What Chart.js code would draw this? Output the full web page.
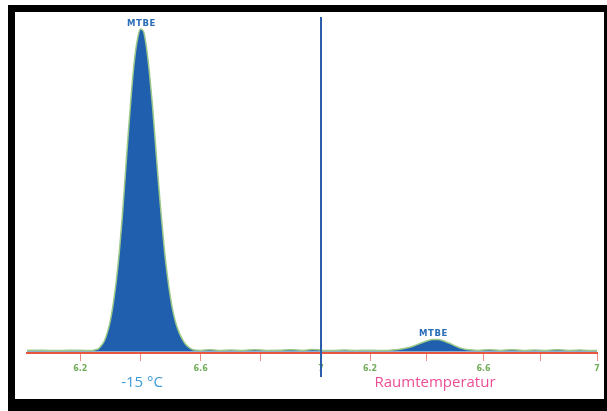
<!DOCTYPE html>
<html>
<head>
<meta charset="utf-8">
<script src="https://cdn.jsdelivr.net/npm/chart.js@4"></script>
<style>
  html, body { margin: 0; padding: 0; background: #fff; }
  body { width: 607px; height: 411px; position: relative; overflow: hidden; }
  #frame { position: absolute; left: 8px; top: 5px; width: 599px; height: 406px; background: #000; }
  #panel { position: absolute; left: 15px; top: 12px; width: 589px; height: 387px; background: #fff; }
  canvas { position: absolute; left: 0; top: 0; }
  #divider { position: absolute; left: 320px; top: 17px; width: 2px; height: 360px; background: #2b5ea8; }
  .cond { position: absolute; top: 371px; font-family: "Open Sans", sans-serif; font-size: 15px; white-space: nowrap; transform: translateX(-50%); }
  #c1lbl { left: 142px; color: #3c9ad8; }
  #c2lbl { left: 435px; color: #ec4e95; }
</style>
</head>
<body>
<div id="frame"></div>
<div id="panel"></div>
<canvas id="left" width="607" height="411"></canvas>
<canvas id="right" width="607" height="411"></canvas>
<div id="divider"></div>
<div class="cond" id="c1lbl">-15 °C</div>
<div class="cond" id="c2lbl">Raumtemperatur</div>
<script>
// Retention time (min) and relative signal (% of the -15 °C MTBE apex)
const leftTimes = [6.023, 6.06, 6.10, 6.14, 6.18, 6.22, 6.24, 6.25, 6.26, 6.27, 6.28, 6.29, 6.30, 6.31, 6.32, 6.33, 6.34, 6.35, 6.36, 6.37, 6.38, 6.39, 6.40, 6.41, 6.42, 6.43, 6.44, 6.45, 6.46, 6.47, 6.48, 6.49, 6.50, 6.51, 6.52, 6.53, 6.54, 6.55, 6.56, 6.57, 6.58, 6.60, 6.63, 6.66, 6.70, 6.74, 6.78, 6.82, 6.86, 6.90, 6.94, 6.97, 7.0];
const leftSignal = [0.3, 0.35, 0.3, 0.3, 0.35, 0.3, 0.3, 0.5, 0.8, 1.8, 3.2, 5.8, 9.5, 15, 22, 31, 42, 55, 68, 80, 90, 96.5, 99.7, 99, 94, 86, 76, 64, 52, 41, 31, 23, 16.5, 11.5, 8, 5.5, 3.6, 2.2, 1.3, 0.7, 0.4, 0.3, 0.5, 0.3, 0.45, 0.3, 0.5, 0.3, 0.35, 0.5, 0.3, 0.6, 0.4];

const rightTimes = [6.027, 6.07, 6.11, 6.15, 6.19, 6.23, 6.26, 6.28, 6.30, 6.32, 6.34, 6.36, 6.38, 6.40, 6.42, 6.44, 6.46, 6.48, 6.50, 6.52, 6.54, 6.56, 6.58, 6.62, 6.66, 6.70, 6.74, 6.78, 6.82, 6.86, 6.90, 6.94, 6.97, 7.0];
const rightSignal = [0.3, 0.3, 0.4, 0.3, 0.35, 0.3, 0.3, 0.4, 0.6, 0.9, 1.3, 1.9, 2.6, 3.2, 3.7, 3.7, 3.2, 2.5, 1.7, 1.0, 0.6, 0.4, 0.3, 0.5, 0.3, 0.5, 0.3, 0.45, 0.3, 0.5, 0.3, 0.4, 0.3, 0.3];

const tickValues = [6.2, 6.4, 6.6, 6.8, 7.0];
const tickLabels = ['6.2', '', '6.6', '', '7'];
const peakName = 'MTBE';

const peakLabel = {
  id: 'peakLabel',
  afterDatasetsDraw(chart) {
    const ds = chart.data.datasets[0].data;
    let best = 0;
    ds.forEach((p, i) => { if (p.y > ds[best].y) best = i; });
    const x = chart.scales.x.getPixelForValue(ds[best].x);
    const y = chart.scales.y.getPixelForValue(ds[best].y);
    const ctx = chart.ctx;
    ctx.save();
    ctx.font = 'bold 8.5px "DejaVu Sans", sans-serif';
    try { ctx.letterSpacing = '0.6px'; } catch (e) {}
    ctx.fillStyle = '#2b6cb8';
    ctx.textAlign = 'center';
    ctx.textBaseline = 'bottom';
    ctx.fillText(peakName, x + 1, y - 1);
    ctx.restore();
  }
};

function makeChart(id, times, signal, xmin, padLeft, padRight) {
  return new Chart(document.getElementById(id), {
    type: 'line',
    data: {
      datasets: [{
        data: times.map((t, i) => ({ x: t, y: signal[i] })),
        borderColor: '#9cc98a',
        borderWidth: 1.5,
        backgroundColor: '#1f5fae',
        fill: 'origin',
        pointRadius: 0,
        cubicInterpolationMode: 'monotone'
      }]
    },
    options: {
      responsive: false,
      animation: false,
      devicePixelRatio: 1,
      layout: { padding: { left: padLeft, right: padRight, top: 28, bottom: 0 } },
      plugins: { legend: { display: false }, tooltip: { enabled: false } },
      scales: {
        x: {
          type: 'linear',
          min: xmin,
          max: 7.0,
          afterBuildTicks: (s) => { s.ticks = tickValues.map(v => ({ value: v })); },
          afterFit: (s) => { s.height = 58; },
          ticks: {
            autoSkip: false,
            maxRotation: 0,
            padding: 3,
            color: '#72ad5a',
            font: { family: 'DejaVu Sans', size: 8, weight: 'bold' },
            callback: (v) => { const i = tickValues.findIndex(t => Math.abs(t - v) < 1e-6); return i >= 0 ? tickLabels[i] : ''; }
          },
          grid: { display: true, drawOnChartArea: false, drawTicks: true, tickLength: 8, color: '#f08a80', lineWidth: 1 },
          border: { display: true, color: '#e8553c', width: 2 }
        },
        y: { display: false, min: -0.5, max: 100 }
      }
    },
    plugins: [peakLabel]
  });
}

makeChart('left', leftTimes, leftSignal, 6.023, 27, 286);
makeChart('right', rightTimes, rightSignal, 6.027, 321, 10);
</script>
</body>
</html>
